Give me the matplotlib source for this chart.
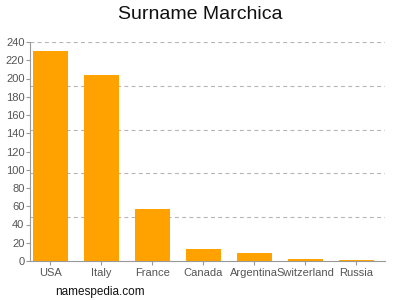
import numpy as np
import matplotlib
matplotlib.use("Agg")
import matplotlib.pyplot as plt

plt.rcParams['font.family'] = ['Liberation Sans', 'DejaVu Sans']

countries = ["USA", "Italy", "France", "Canada", "Argentina", "Switzerland", "Russia"]
counts = [230, 204, 57, 13, 9, 2, 1]
yticks = list(range(0, 241, 20))
grid_levels = [48, 96, 144, 192, 240]

fig = plt.figure(figsize=(4, 3), dpi=100)
ax = fig.add_axes([0.075, 0.13, 0.8875, 0.73])

x = np.arange(len(countries))
ax.bar(x, counts, width=0.69, color="#FFA200", zorder=2)

# dashed guide lines, not on the tick positions
for g in grid_levels:
    ax.axhline(g, color="#b5b5b5", linestyle=(0, (3.5, 3)), linewidth=0.8, zorder=1)

ax.set_xlim(-0.40, 6.56)
ax.set_ylim(0, 240)
ax.set_yticks(yticks)
ax.set_xticks(x)
ax.set_xticklabels(countries)
ax.tick_params(axis='both', colors="#999999", labelcolor="#555555", labelsize=8, length=3, width=0.8)
ax.tick_params(axis='y', pad=1)
ax.tick_params(axis='x', pad=2)

for s in ["top", "right"]:
    ax.spines[s].set_visible(False)
for s in ["left", "bottom"]:
    ax.spines[s].set_color("#999999")
    ax.spines[s].set_linewidth(0.8)

fig.text(0.5, 0.952, "Surname Marchica", ha="center", va="center", fontsize=14, color="#111111")
fig.text(0.1375, 0.028, "namespedia.com", ha="left", va="center", fontsize=8.5, color="#111111")

fig.savefig("out.png", dpi=100)
